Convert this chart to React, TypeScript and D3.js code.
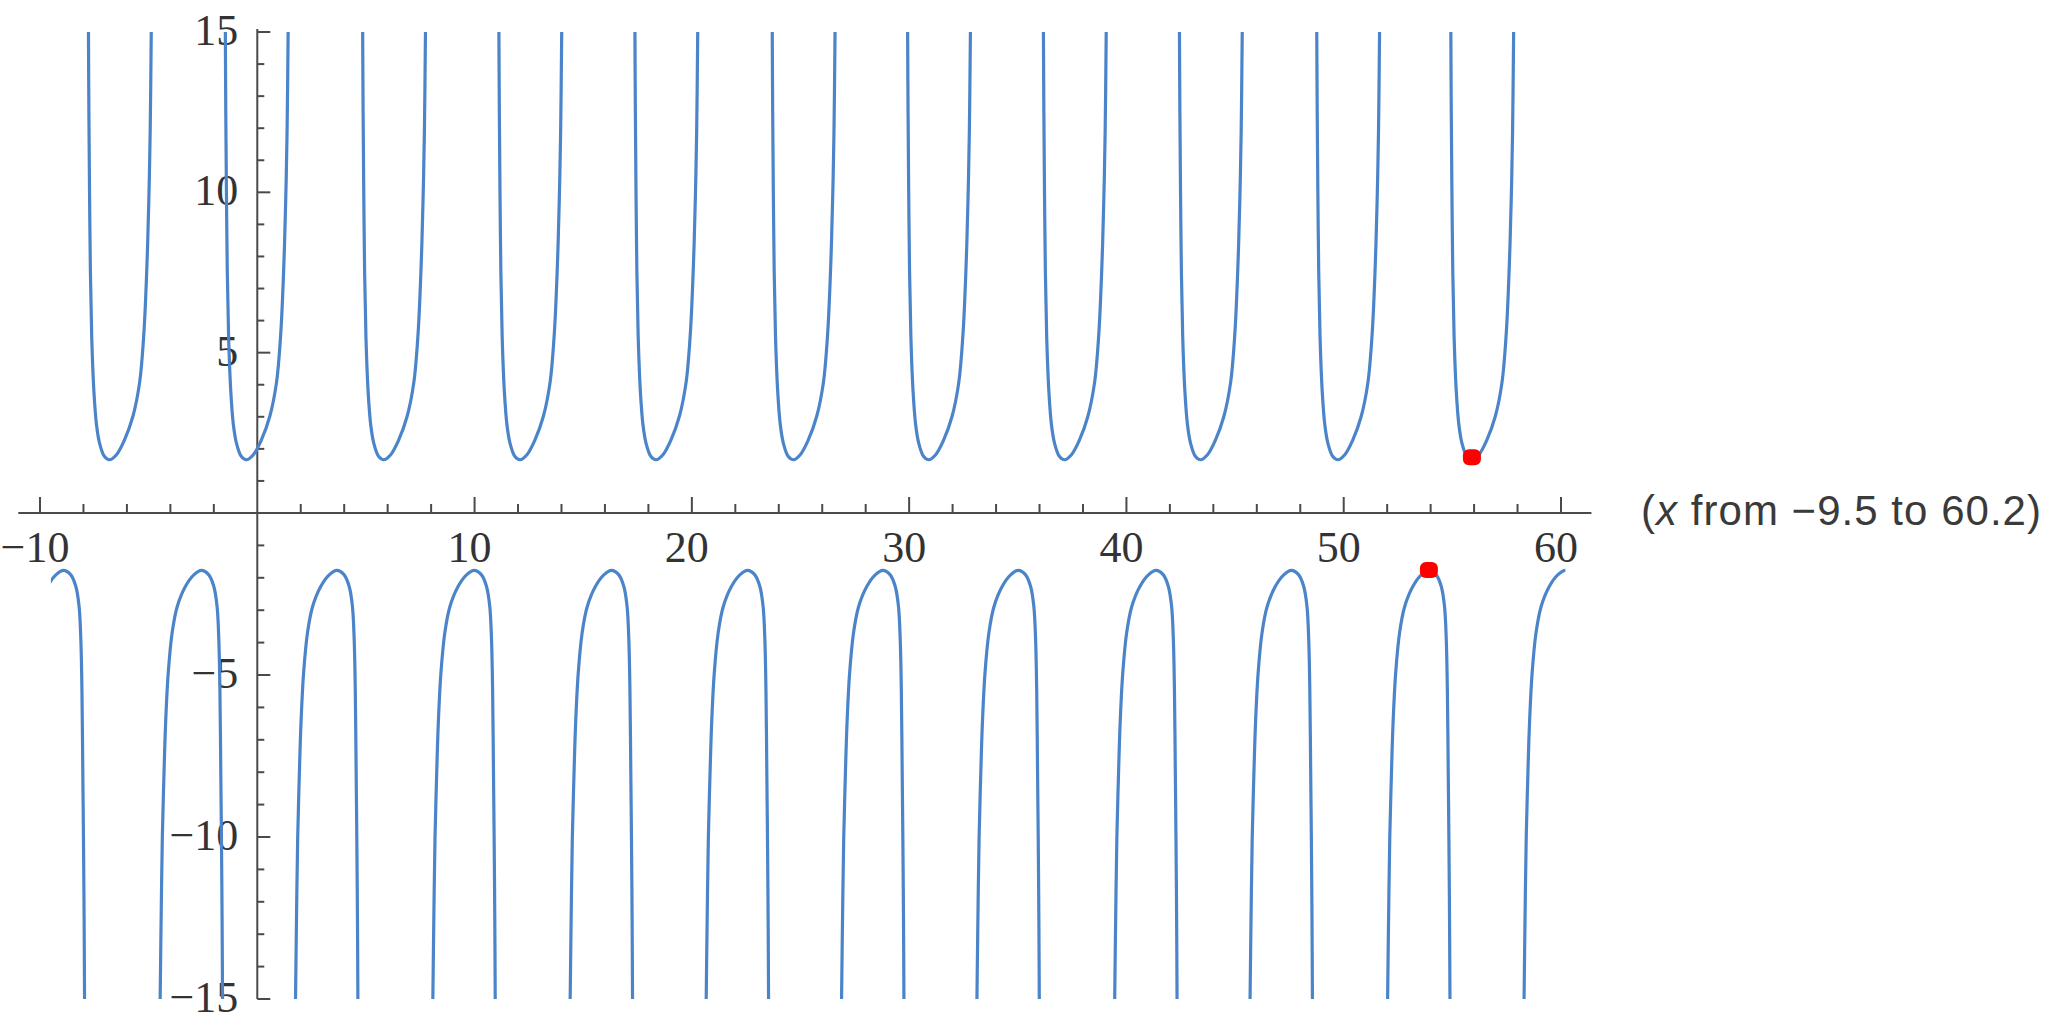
import React from 'react';
import * as d3 from 'd3';

const width = 2048;
const height = 1032;

// x of the low point of every upper branch
const upperMinX = [-6.8, -0.5, 5.82, 12.09, 18.35, 24.67, 30.9, 37.15, 43.41, 49.73, 55.9];
// x of the high point of every lower branch
const lowerMaxX = [-8.92, -2.57, 3.66, 9.98, 16.3, 22.56, 28.79, 35.02, 41.36, 47.59, 53.92, 60.2];

// one branch: [offset from the extremum, value]
const upperShape = [
  [-0.97, 15], [-0.95, 12.5], [-0.92, 10], [-0.88, 7.5], [-0.82, 5.5],
  [-0.72, 3.8], [-0.6, 2.75], [-0.46, 2.18], [-0.23, 1.76], [0, 1.66],
  [0.31, 1.81], [0.69, 2.28], [1.07, 3.0], [1.38, 4.05], [1.58, 5.6],
  [1.72, 7.7], [1.81, 9.8], [1.87, 11.85], [1.92, 15],
];
const lowerShape = [
  [-1.9, -15], [-1.855, -12.5], [-1.8, -10], [-1.73, -8.2], [-1.65, -6.5],
  [-1.53, -4.95], [-1.35, -3.7], [-1.12, -2.9], [-0.74, -2.27], [-0.35, -1.91],
  [0, -1.77], [0.34, -1.91], [0.57, -2.27], [0.72, -2.89], [0.8, -3.92],
  [0.85, -5.46], [0.89, -8.0], [0.92, -10], [0.95, -12.5], [0.97, -15],
];

// the two red points
const marked = [[55.9, 1.74], [53.92, -1.76]];

const xDomain = [-9.5, 60.2];
const xTickLabels = [-10, 10, 20, 30, 40, 50, 60];
const yTickLabels = [-15, -10, -5, 5, 10, 15];

const fmt = (v: number) => (v < 0 ? '\u2212' + Math.abs(v) : String(v));

export default function App() {
  const x = d3.scaleLinear([-10, 60], [40, 1561]);
  const y = d3.scaleLinear([-15, 0, 15], [999, 513, 32]);

  const line = d3
    .line<number[]>()
    .x((d) => x(d[0]))
    .y((d) => y(d[1]))
    .curve(d3.curveCatmullRom.alpha(0.5));

  const branches = [
    ...upperMinX.map((c) => upperShape.map(([dx, v]) => [c + dx, v])),
    ...lowerMaxX.map((c) => lowerShape.map(([dx, v]) => [c + dx, v])),
  ];

  const xMinor = d3.range(-8, 60, 2).filter((v) => v % 10 !== 0);
  const yMinor = d3.range(-14, 15, 1).filter((v) => v % 5 !== 0);
  const x0 = x(0);
  const y0 = y(0);
  const axisColor = '#4a4a4a';
  const serif = '"Liberation Serif", "DejaVu Serif", serif';

  return (
    <svg
      width={width}
      height={height}
      style={{ position: 'absolute', left: 0, top: 0, background: '#fff' }}
    >
      <defs>
        <clipPath id="plot-clip">
          <rect x={x(xDomain[0])} y={0} width={x(xDomain[1]) - x(xDomain[0])} height={height} />
        </clipPath>
      </defs>

      {/* axes */}
      <g stroke={axisColor} strokeWidth={2} fill="none">
        <line x1={x(-11)} x2={x(61.4)} y1={y0} y2={y0} />
        <line x1={x0} x2={x0} y1={y(15) - 3} y2={y(-15)} />
        {xTickLabels.map((v) => (
          <line key={'xM' + v} x1={x(v)} x2={x(v)} y1={y0} y2={y0 - 16} />
        ))}
        {xMinor.map((v) => (
          <line key={'xm' + v} x1={x(v)} x2={x(v)} y1={y0} y2={y0 - 9} />
        ))}
        {yTickLabels.map((v) => (
          <line key={'yM' + v} x1={x0} x2={x0 + 13} y1={y(v)} y2={y(v)} />
        ))}
        {yMinor.map((v) => (
          <line key={'ym' + v} x1={x0} x2={x0 + 7} y1={y(v)} y2={y(v)} />
        ))}
      </g>

      {/* tick labels */}
      <g fontFamily={serif} fontSize={44} fill="#333">
        {xTickLabels.map((v) => (
          <text key={'xl' + v} x={x(v) - 5} y={y0 + 49} textAnchor="middle">
            {fmt(v)}
          </text>
        ))}
        {yTickLabels.map((v) => (
          <text key={'yl' + v} x={x0 - 19} y={y(v) + 13} textAnchor="end">
            {fmt(v)}
          </text>
        ))}
      </g>

      {/* curve */}
      <g clipPath="url(#plot-clip)" fill="none" stroke="#4b84c8" strokeWidth={3.2}>
        {branches.map((b, i) => (
          <path key={i} d={line(b) || ''} />
        ))}
      </g>

      {/* marked points */}
      <g fill="#ff0000">
        {marked.map((d, i) => (
          <rect key={i} x={x(d[0]) - 9} y={y(d[1]) - 8} width={18} height={16} rx={6} />
        ))}
      </g>

      <text
        x={1641}
        y={y0 + 12}
        fontFamily='"Liberation Sans", Arimo, sans-serif'
        fontSize={42}
        fill="#3a3a3a"
        textLength={400}
        lengthAdjust="spacing"
      >
        (<tspan fontStyle="italic">x</tspan> from {'\u2212'}9.5 to 60.2)
      </text>
    </svg>
  );
}
